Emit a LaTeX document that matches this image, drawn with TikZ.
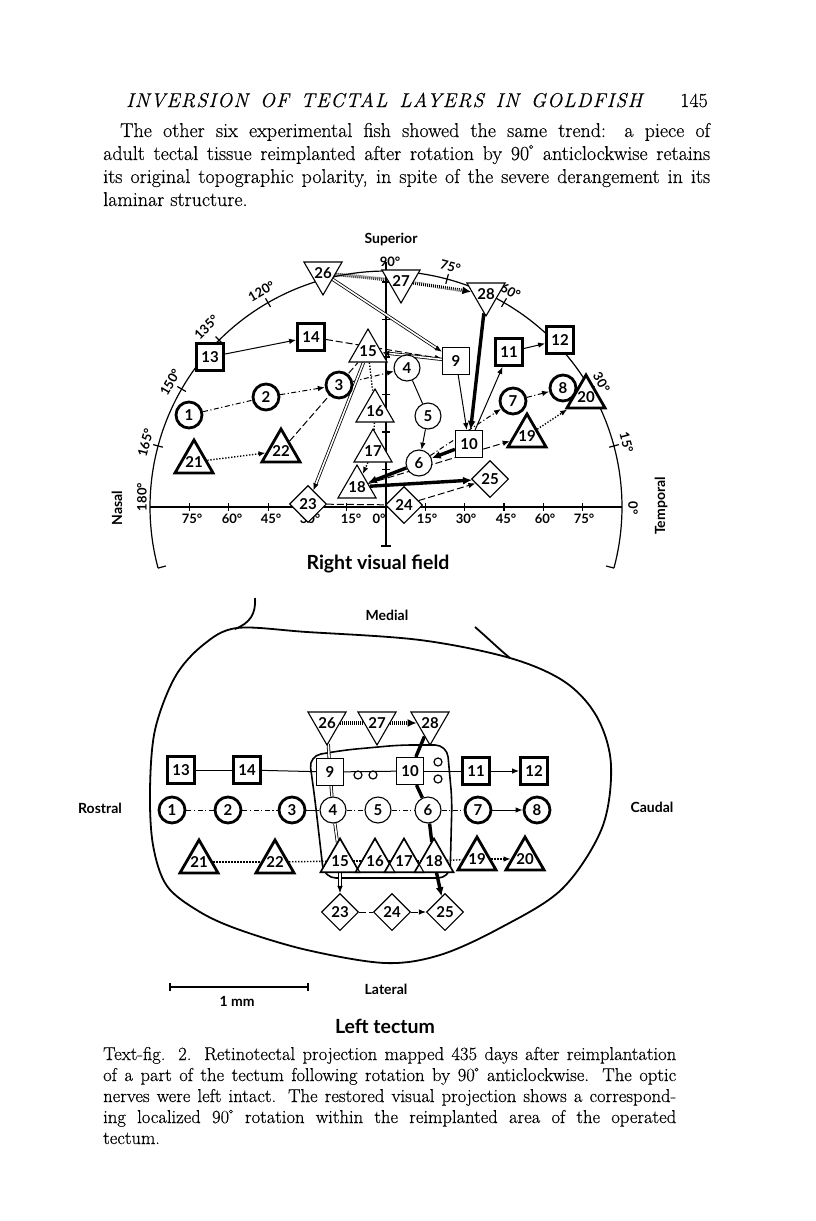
\documentclass[tikz,border=0pt]{standalone}
\usepackage{fontspec}
\setmainfont{Latin Modern Roman}[FakeBold=0.35]
\newfontfamily\gs{Lato}
\usetikzlibrary{shapes.geometric,arrows.meta}
\pgfdeclarelayer{bg}
\pgfsetlayers{bg,main}
\newcommand\zl[1]{\makebox[0pt]{\raisebox{-0.36em}[0pt][0pt]{#1}}}
\newcommand\lb{\gs\bfseries}
\newcommand\dg{\textsuperscript{\kern-0.05em\raisebox{-0.15em}{°}}}
\tikzset{
  mk/.style={draw, fill=white, inner sep=0pt, line width=1.1pt, font=\lb\fontsize{15}{15}\selectfont},
  thk/.style={line width=2.8pt},
  cir/.style={mk, circle, minimum size=26pt},
  sqr/.style={mk, rectangle, minimum size=27pt},
  tri/.style={mk, regular polygon, regular polygon sides=3, minimum size=44pt},
  itri/.style={tri, shape border rotate=180},
  dia/.style={mk, diamond, minimum size=37pt},
  sm/.style={draw, fill=white, circle, inner sep=0pt, minimum size=8pt, line width=1.2pt},
  ar/.style={-{Latex[length=7pt,width=5.5pt]}},
  bar/.style={-{Latex[length=9pt,width=8pt]}},
  ln/.style={line width=1pt},
  dd/.style={line width=1pt, dash pattern=on 5pt off 2.5pt on 1.2pt off 2.5pt},
  dsh/.style={line width=1pt, dash pattern=on 7pt off 3pt},
  dt/.style={line width=1.4pt, dash pattern=on 1.3pt off 1.7pt},
  hatch/.style={line width=3.4pt, dash pattern=on 0.9pt off 1.1pt},
  dbl/.style={double, double distance=1.6pt, line width=0.8pt},
  hvy/.style={line width=3.4pt},
  ax/.style={line width=1.2pt},
  lab/.style={font=\lb\fontsize{13}{13}\selectfont, inner sep=0pt},
  side/.style={font=\lb\fontsize{14}{14}\selectfont, inner sep=0pt},
  ttl/.style={font=\lb\fontsize{19.5}{19.5}\selectfont, inner sep=0pt},
  txt/.style={anchor=base west, inner sep=0pt, font=\fontsize{20}{20}\selectfont},
  cpt/.style={anchor=base west, inner sep=0pt, font=\fontsize{18.6}{18.6}\selectfont},
}
\begin{document}
\begin{tikzpicture}[x=1pt,y=-1pt]
\useasboundingbox (0,0) rectangle (816,1221);
\begin{pgfonlayer}{bg}
\fill[white] (0,0) rectangle (816,1221);
\end{pgfonlayer}

% ---------- page text ----------
\node[anchor=base west, inner sep=0pt, font=\fontsize{20}{20}\selectfont\itshape\addfontfeatures{LetterSpace=6}] (hdr) at (126,107) {\makebox[516pt][s]{INVERSION OF TECTAL LAYERS IN GOLDFISH}};
\node[anchor=base east, inner sep=0pt, font=\fontsize{20}{20}\selectfont] (pg) at (708,107) {145};
\node[txt] (p1) at (120,137) {\makebox[590pt][s]{The other six experimental fish showed the same trend: a piece of}};
\node[txt] (p2) at (103,160) {\makebox[607pt][s]{adult tectal tissue reimplanted after rotation by 90\dg\ anticlockwise retains}};
\node[txt] (p3) at (103,183) {\makebox[607pt][s]{its original topographic polarity, in spite of the severe derangement in its}};
\node[txt] (p4) at (103,206) {laminar structure.};

\node[cpt] (q1) at (103,1060) {\makebox[573pt][s]{Text-fig. 2. Retinotectal projection mapped 435 days after reimplantation}};
\node[cpt] (q2) at (103,1081) {\makebox[573pt][s]{of a part of the tectum following rotation by 90\dg\ anticlockwise. The optic}};
\node[cpt] (q3) at (103,1102) {\makebox[573pt][s]{nerves were left intact. The restored visual projection shows a correspond-}};
\node[cpt] (q4) at (103,1123) {\makebox[573pt][s]{ing localized 90\dg\ rotation within the reimplanted area of the operated}};
\node[cpt] (q5) at (103,1144) {tectum.};

% ---------- visual field: axes ----------
\begin{pgfonlayer}{bg}
\draw[ax] plot[domain=-15:195, samples=140, variable=\a] ({386+236*cos(\a)},{507-236*sin(\a)});
\foreach \a in {15,30,...,165} \draw[ax] ({386+231*cos(\a)},{507-231*sin(\a)}) -- ({386+241*cos(\a)},{507-241*sin(\a)});
\foreach \a in {-15,195} \draw[ax] ({386+236*cos(\a)},{507-236*sin(\a)}) -- ({386+228*cos(\a)},{507-228*sin(\a)});
\draw[ax] (150,507) -- (622,507);
\foreach \k in {-5,...,5} \draw[ax] ({386+39.3*\k},503) -- ({386+39.3*\k},511);
\draw[ax] (386,262) -- (386,546);
\draw[ax] (381,546) -- (391,546);
\foreach \k in {1,...,6} \draw[ax] (382,{507-37.5*\k}) -- (390,{507-37.5*\k});
\end{pgfonlayer}

\foreach \a/\r in {15/249,30/249,60/249,75/249,120/249,135/254,150/249,165/249} \node[lab, rotate=\a-90] at ({386+\r*cos(\a)},{507-\r*sin(\a)}) {\a°};
\node[lab] (d90) at (390,262) {90°};
\node[lab, rotate=90] (d180) at (142,497) {180°};
\node[lab, rotate=-90] (d0) at (633,508) {0°};
\foreach \x/\l in {192/75,232/60,271/45,310/30,351/15,379/0,427/15,466/30,506/45,545/60,584/75} \node[lab] at (\x,519) {\l°};

\node[side] (sup) at (391,239) {Superior};
\node[side, rotate=90] (nas) at (117,508) {Nasal};
\node[side, rotate=90] (tem) at (661,506) {Temporal};
\node[ttl] (rvf) at (378,564) {Right visual field};

% ---------- visual field: markers ----------
\node[cir,thk] (V1) at (189,415) {\zl{1}};
\node[cir,thk] (V2) at (266,397) {\zl{2}};
\node[cir,thk] (V3) at (339,385) {\zl{3}};
\node[cir] (V4) at (407,368) {\zl{4}};
\node[cir] (V5) at (428,416) {\zl{5}};
\node[cir] (V6) at (419,463) {\zl{6}};
\node[cir,thk] (V7) at (513,401) {\zl{7}};
\node[cir,thk] (V8) at (563,388) {\zl{8}};
\node[sqr] (V9) at (456,361) {\zl{9}};
\node[sqr] (V10) at (469,444) {\zl{10}};
\node[sqr,thk] (V11) at (509,352) {\zl{11}};
\node[sqr,thk] (V12) at (560,340) {\zl{12}};
\node[sqr,thk] (V13) at (210,357) {\zl{13}};
\node[sqr,thk] (V14) at (311,337) {\zl{14}};
\node[tri] (V15) at (368,351) {\zl{15}};
\node[tri] (V16) at (375,411) {\zl{16}};
\node[tri] (V17) at (373,451) {\zl{17}};
\node[tri] (V18) at (357,487) {\zl{18}};
\node[tri,thk] (V19) at (527,436) {\zl{19}};
\node[tri,thk] (V20) at (586,397) {\zl{20}};
\node[tri,thk] (V21) at (194,462) {\zl{21}};
\node[tri,thk] (V22) at (281,451) {\zl{22}};
\node[dia] (V23) at (308,504) {\zl{23}};
\node[dia] (V24) at (404,505) {\zl{24}};
\node[dia] (V25) at (490,479) {\zl{25}};
\node[itri] (V26) at (323,273) {\zl{26}};
\node[itri] (V27) at (401,281) {\zl{27}};
\node[itri] (V28) at (486,294) {\zl{28}};

\begin{pgfonlayer}{bg}
\draw[ln,ar] (V13) -- (V14);
\draw[dsh,ar] (V14) -- (V9);
\draw[dbl,ar] (V26) -- (V9);
\draw[dbl,ar] (V9) -- (V15);
\draw[ln,ar] (V9) -- (V10);
\draw[ln,ar] (V10) -- (V11);
\draw[ln,ar] (V11) -- (V12);
\draw[dd] (V1) -- (V2);
\draw[dd,ar] (V2) -- (V3);
\draw[dd,ar] (V3) -- (V4);
\draw[ln] (V4) -- (V5);
\draw[ln,ar] (V5) -- (V6);
\draw[dd,ar] (V6) -- (V7);
\draw[dd,ar] (V7) -- (V8);
\draw[dt,ar] (V21) -- (V22);
\draw[dsh] (V22) -- (V15);
\draw[dt] (V15) -- (V16);
\draw[dt] (V16) -- (V17);
\draw[dt,ar] (V17) -- (V18);
\draw[dsh,ar] (V18) -- (V19);
\draw[dt,ar] (V19) -- (V20);
\draw[dbl,ar] (V15) -- (V23);
\draw[dsh] (V23) -- (V24);
\draw[dsh,ar] (V24) -- (V25);
\draw[hatch] (V26) -- (V27);
\draw[hatch,bar] (V27) -- (V28);
\draw[hvy,bar] (V28) -- (V10);
\draw[hvy,bar] (V10) -- (V6);
\draw[hvy,bar] (V6) -- (V18);
\draw[hvy,bar] (V18) -- (V25);
\end{pgfonlayer}

% ---------- tectum ----------
\begin{pgfonlayer}{bg}
\draw[line width=1.8pt] plot[smooth cycle, tension=0.55] coordinates {(237,628) (307,632) (420,640) (510,658) (565,682) (597,717) (611,765) (602,828) (562,889) (500,928) (440,955) (385,963) (307,950) (240,930) (200,912) (167,886) (153,845) (150,790) (155,730) (175,677) (203,645)};
\draw[line width=1.8pt] (255,598) .. controls (256,614) and (250,623) .. (235,629);
\draw[line width=1.8pt] (475,627) .. controls (490,640) and (500,650) .. (510,658);
\draw[line width=1.6pt, rounded corners=12pt] (309,756) -- (345,750) -- (400,745) -- (447,745) -- (452,800) -- (450,878) -- (324,878) -- (315,800) -- cycle;
\draw[line width=1.4pt] (170,987) -- (308,987);
\draw[line width=1.4pt] (170,983) -- (170,991);
\draw[line width=1.4pt] (308,983) -- (308,991);
\end{pgfonlayer}

\node[side] (med) at (387,615) {Medial};
\node[side] (lat) at (386,989) {Lateral};
\node[side] (ros) at (100,808) {Rostral};
\node[side] (cau) at (652,807) {Caudal};
\node[side] (mm) at (237,1001) {1 mm};
\node[ttl] (ltt) at (385,1026) {Left tectum};

\node[itri] (T26) at (327,723) {\zl{26}};
\node[itri] (T27) at (377,723) {\zl{27}};
\node[itri] (T28) at (430,723) {\zl{28}};
\node[sqr,thk] (T13) at (181,770) {\zl{13}};
\node[sqr,thk] (T14) at (247,770) {\zl{14}};
\node[sqr] (T9) at (330,772) {\zl{9}};
\node[sqr] (T10) at (410,771) {\zl{10}};
\node[sqr,thk] (T11) at (476,771) {\zl{11}};
\node[sqr,thk] (T12) at (534,771) {\zl{12}};
\node[sm] (o1) at (358,775) {};
\node[sm] (o2) at (373,775) {};
\node[sm] (o3) at (438,762) {};
\node[sm] (o4) at (438,779) {};
\node[cir,thk] (T1) at (172,810) {\zl{1}};
\node[cir,thk] (T2) at (228,810) {\zl{2}};
\node[cir,thk] (T3) at (292,810) {\zl{3}};
\node[cir] (T4) at (333,810) {\zl{4}};
\node[cir] (T5) at (378,810) {\zl{5}};
\node[cir] (T6) at (428,810) {\zl{6}};
\node[cir,thk] (T7) at (478,810) {\zl{7}};
\node[cir,thk] (T8) at (537,810) {\zl{8}};
\node[tri,thk] (T21) at (199,862) {\zl{21}};
\node[tri,thk] (T22) at (275,862) {\zl{22}};
\node[tri] (T15) at (340,861) {\zl{15}};
\node[tri] (T16) at (375,861) {\zl{16}};
\node[tri] (T17) at (404,861) {\zl{17}};
\node[tri] (T18) at (434,861) {\zl{18}};
\node[tri,thk] (T19) at (477,859) {\zl{19}};
\node[tri,thk] (T20) at (525,859) {\zl{20}};
\foreach \n in {15,16,17,18} \draw[line width=1.1pt] (T\n.corner 1) -- (T\n.corner 2) -- (T\n.corner 3) -- cycle;
\node[dia] (T23) at (340,912) {\zl{23}};
\node[dia] (T24) at (392,912) {\zl{24}};
\node[dia] (T25) at (445,912) {\zl{25}};

\begin{pgfonlayer}{bg}
\draw[ln] (T13) -- (T14);
\draw[ln] (T14) -- (T9);
\draw[ln] (T9) -- (T10);
\draw[ln] (T10) -- (T11);
\draw[ln,ar] (T11) -- (T12);
\draw[dd] (T1) -- (T2);
\draw[dd] (T2) -- (T3);
\draw[ln] (T3) -- (T4);
\draw[dd] (T4) -- (T5);
\draw[dd] (T5) -- (T6);
\draw[dd] (T6) -- (T7);
\draw[ln,ar] (T7) -- (T8);
\draw[dt] (T21) -- (T22);
\draw[dt] (T22) -- (T15);
\draw[dt] (T15) -- (T16);
\draw[dt] (T16) -- (T17);
\draw[dt] (T17) -- (T18);
\draw[dt] (T18) -- (T19);
\draw[dt,ar] (T19) -- (T20);
\draw[dsh] (T23) -- (T24);
\draw[dsh,ar] (T24) -- (T25);
\draw[hatch] (T26) -- (T27);
\draw[hatch,bar] (T27) -- (T28);
\draw[dbl] (T26) -- (T9);
\draw[dbl] (T9) -- (T4);
\draw[dbl] (T4) -- (T15);
\draw[dbl,ar] (T15) -- (T23);
\draw[hvy] (T28) -- (T10);
\draw[hvy] (T10) -- (T6);
\draw[hvy] (T6) -- (T18);
\draw[hvy,bar] (T18) -- (T25);
\end{pgfonlayer}
\end{tikzpicture}
\end{document}
